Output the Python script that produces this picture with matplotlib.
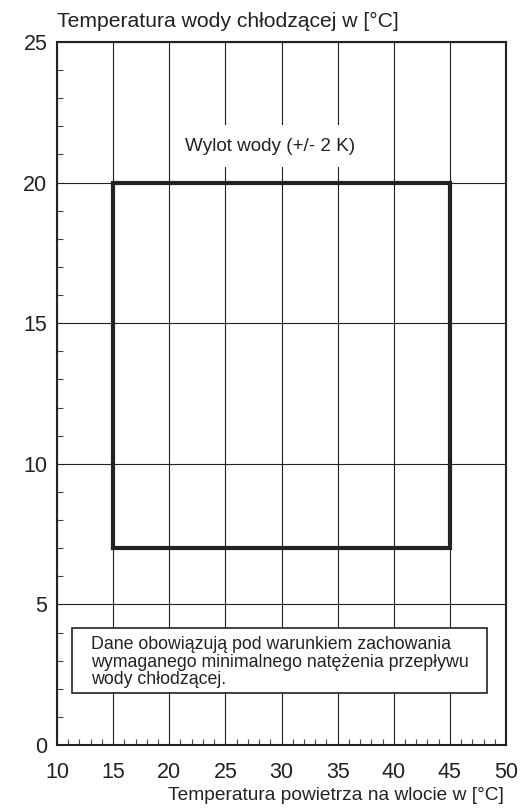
import numpy as np
import matplotlib.pyplot as plt

plt.rcParams['font.family'] = ['Liberation Sans', 'DejaVu Sans']

# Operating envelope (air inlet temp vs. cooling water outlet temp)
env_x = [15, 45, 45, 15, 15]
env_y = [7, 7, 20, 20, 7]

x_ticks = [10, 15, 20, 25, 30, 35, 40, 45, 50]
y_ticks = [0, 5, 10, 15, 20, 25]

label_box = "Wylot wody (+/- 2 K)"
note = ("Dane obowiązują pod warunkiem zachowania\n"
        "wymaganego minimalnego natężenia przepływu\n"
        "wody chłodzącej.")

fig = plt.figure(figsize=(5.21, 8.08), dpi=100)
ax = fig.add_axes([57/521, 1 - 745/808, 449/521, 703/808])

ax.set_xlim(10, 50)
ax.set_ylim(0, 25)
ax.set_xticks(x_ticks)
ax.set_yticks(y_ticks)
ax.set_xticks(np.arange(10, 51, 1), minor=True)
ax.set_yticks(np.arange(0, 26, 1), minor=True)
ax.tick_params(which='major', length=0, labelsize=15.5, colors='#222222')
ax.tick_params(axis='x', which='major', pad=12)
ax.tick_params(axis='y', which='major', pad=7)
ax.tick_params(which='minor', direction='in', length=4, width=0.8, color='#444444')
ax.grid(True, which='major', color='#222222', linewidth=0.8)
for s in ax.spines.values():
    s.set_color('#222222')
    s.set_linewidth(1.5)

ax.plot(env_x, env_y, color='#222222', linewidth=3, solid_joinstyle='miter', zorder=3)

ax.text(29.0, 21.3, label_box, ha='center', va='center', fontsize=13.6, color='#222222',
        bbox=dict(facecolor='white', edgecolor='none', pad=9), zorder=4)

ax.text(13.0, 2.95, note, ha='left', va='center', fontsize=12.8, color='#222222',
        linespacing=1.05, zorder=5)
rect = plt.Rectangle((11.35, 1.85), 36.95, 2.3, facecolor='white', edgecolor='#222222',
                     linewidth=1.2, zorder=4)
ax.add_patch(rect)

fig.text(57/521, 1 - 21/808, "Temperatura wody chłodzącej w [°C]", ha='left', va='center',
         fontsize=15.2, color='#222222')
fig.text(504/521, 1 - 795/808, "Temperatura powietrza na wlocie w [°C]", ha='right',
         va='center', fontsize=13.8, color='#222222')

fig.savefig('out.png', dpi=100)
